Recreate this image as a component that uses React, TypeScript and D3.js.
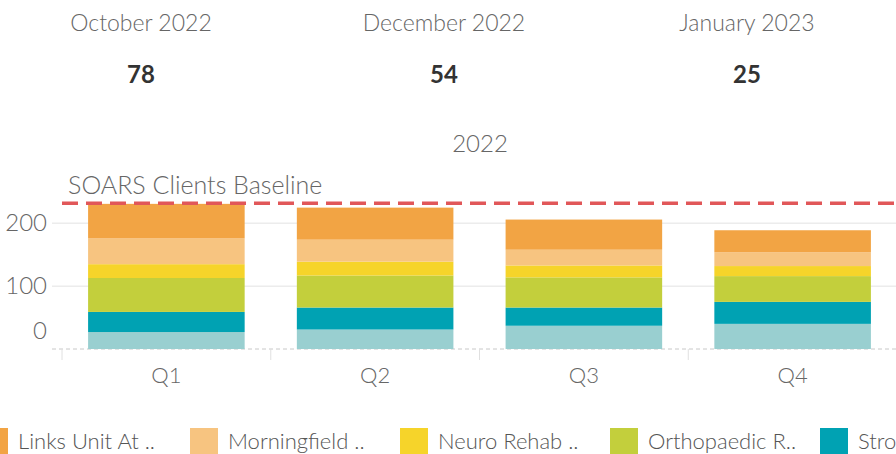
import React from "react";
import * as d3 from "d3";

const quarters = ["Q1", "Q2", "Q3", "Q4"];
const seriesTopToBottom = [
  "Links Unit At ..",
  "Morningfield ..",
  "Neuro Rehab ..",
  "Orthopaedic R..",
  "Stroke Unit ..",
  "Ward ..",
];
const linksValues = [55, 51, 48, 35];
const morningfieldValues = [41, 35, 25, 22];
const neuroValues = [22, 22, 19, 16];
const orthoValues = [54, 51, 48, 41];
const strokeValues = [32, 35, 29, 35];
const wardValues = [27, 31, 37, 40];
const seriesColors = ["#F2A444", "#F7C480", "#F6D42A", "#C3CF3C", "#00A2B3", "#99CFD0"];
const baselineValue = 232;
const baselineLabel = "SOARS Clients Baseline";
const yTicks = [0, 100, 200];
const kpiMonths = ["October 2022", "December 2022", "January 2023"];
const kpiValues = [78, 54, 25];
const yearTitle = "2022";

const W = 896;
const H = 454;
const FONT = "Lato, 'Open Sans', sans-serif";

export default function App() {
  const valuesBySeries = [linksValues, morningfieldValues, neuroValues, orthoValues, strokeValues, wardValues];
  const rows = quarters.map((q, i) => {
    const r: any = { quarter: q };
    seriesTopToBottom.forEach((s, j) => (r[s] = valuesBySeries[j][i]));
    return r;
  });
  const keysBottomUp = [...seriesTopToBottom].reverse();
  const stacked = d3.stack().keys(keysBottomUp)(rows);
  const color = d3.scaleOrdinal<string, string>().domain(seriesTopToBottom).range(seriesColors);

  const x = d3.scaleBand().domain(quarters).range([62, 897]).paddingInner(0.25).paddingOuter(0.125);
  const y = d3.scaleLinear().domain([0, 240]).range([349, 198.2]);
  const kpiX = d3.scalePoint().domain(kpiMonths).range([141, 747]);
  const legendX = d3.scaleBand().domain(seriesTopToBottom).range([-20, -20 + 210 * 6]);

  const gridLeft = 52;
  const outerGap = (x.step() - x.bandwidth()) / 2;

  return (
    <div style={{ position: "absolute", left: 0, top: 0 }}>
      <svg width={W} height={H} style={{ display: "block", fontFamily: FONT }}>
        <rect x={0} y={0} width={W} height={H} fill="#fff" />
        {kpiMonths.map((m, i) => (
          <g key={m}>
            <text x={kpiX(m)} y={31} textAnchor="middle" fontSize={23} fontWeight={300} fill="#666">
              {m}
            </text>
            <text x={kpiX(m)} y={83} textAnchor="middle" fontSize={24} fontWeight={700} fill="#333">
              {kpiValues[i]}
            </text>
          </g>
        ))}
        <text x={480} y={152} textAnchor="middle" fontSize={24} fontWeight={300} fill="#666">
          {yearTitle}
        </text>

        {yTicks.filter((t) => t !== 0).map((t) => (
          <line key={t} x1={gridLeft} x2={W} y1={y(t)} y2={y(t)} stroke="#ececec" strokeWidth={1.5} />
        ))}
        <line x1={gridLeft} x2={W} y1={y(0)} y2={y(0)} stroke="#c8c8c8" strokeWidth={1} strokeDasharray="4,3" />
        {quarters.map((q) => {
          const vx = (x(q) as number) - outerGap;
          return <line key={q} x1={vx} x2={vx} y1={y(0)} y2={y(0) + 11} stroke="#e0e0e0" strokeWidth={1} />;
        })}
        {yTicks.map((t) => (
          <text key={t} x={47} y={Math.min(y(t) + 2, y(0) - 16)} textAnchor="end" dominantBaseline="middle" fontSize={24} fontWeight={300} fill="#666">
            {t}
          </text>
        ))}

        {stacked.map((layer) => (
          <g key={layer.key} fill={color(layer.key)}>
            {layer.map((d, i) => (
              <rect
                key={i}
                x={x(quarters[i])}
                width={x.bandwidth()}
                y={y(d[1])}
                height={y(d[0]) - y(d[1])}
              />
            ))}
          </g>
        ))}

        <line x1={62} x2={W} y1={y(baselineValue)} y2={y(baselineValue)} stroke="#E15759" strokeWidth={3.3} strokeDasharray="16,8" />
        <text x={68} y={194} fontSize={25} fontWeight={300} fill="#666">
          {baselineLabel}
        </text>

        {quarters.map((q) => (
          <text key={q} x={(x(q) as number) + x.bandwidth() / 2} y={383} textAnchor="middle" fontSize={22} fontWeight={300} fill="#666">
            {q}
          </text>
        ))}

        {seriesTopToBottom.map((s) => (
          <g key={s} transform={`translate(${legendX(s)},428)`}>
            <rect x={0} y={0} width={28} height={26} fill={color(s)} />
            <text x={38} y={21} fontSize={22} fontWeight={300} fill="#555">
              {s}
            </text>
          </g>
        ))}
      </svg>
    </div>
  );
}
